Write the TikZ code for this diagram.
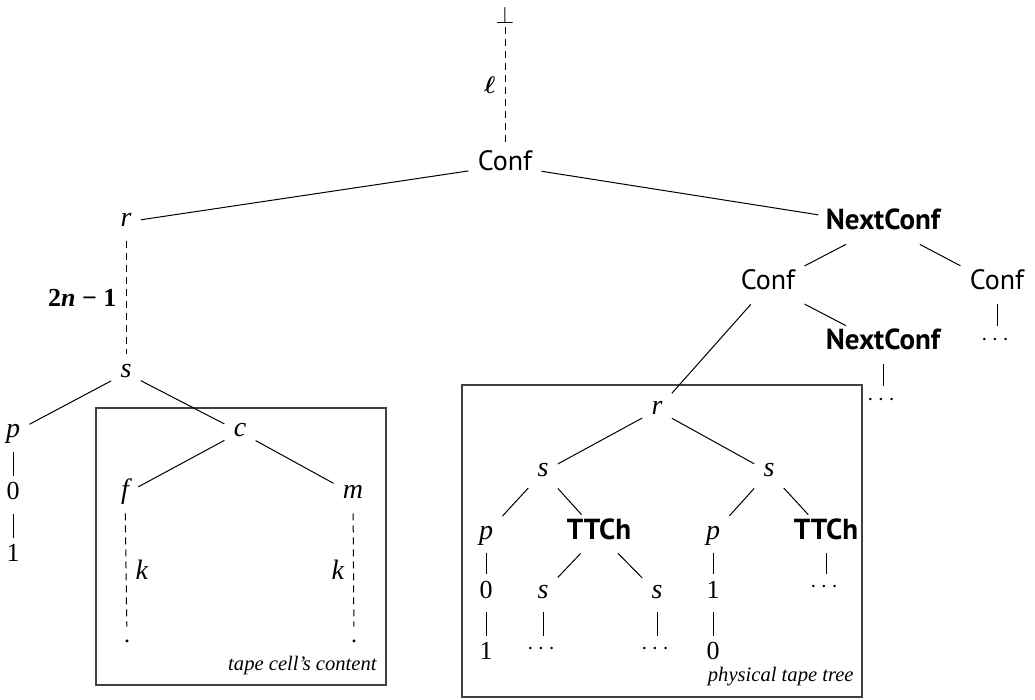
\documentclass[tikz,border=0pt]{standalone}
\usepackage{fontspec}
\usepackage{amsmath}
\setmainfont{Liberation Serif}
\newfontfamily\sansf{PT Sans}
\begin{document}
\begin{tikzpicture}[x=0.5pt,y=-0.5pt,
  every node/.style={font=\fontsize{12}{14}\selectfont},
  tn/.style={inner xsep=4.5pt, inner ysep=4pt, text height=8pt, text depth=3pt},
  numn/.style={tn, font=\fontsize{13}{15}\selectfont},
  itn/.style={tn, font=\fontsize{14}{16}\selectfont\itshape},
  sfn/.style={tn, font=\fontsize{14}{16}\selectfont\sansf},
  sfbn/.style={tn, inner xsep=3.5pt, font=\fontsize{14.5}{16}\selectfont\sansf\bfseries},
  dotn/.style={inner xsep=4pt, inner ysep=6.5pt, text height=1pt, text depth=0pt},
  botn/.style={inner sep=0pt, anchor=base, font=\fontsize{13}{15}\selectfont},
  labn/.style={inner sep=4.5pt},
  conn/.style={line width=0.5pt},
  dline/.style={line width=0.5pt, dash pattern=on 3.5pt off 2.5pt},
  boxframe/.style={draw=black!75, line width=0.6pt},
  captxt/.style={font=\fontsize{10.3}{12}\selectfont\itshape, inner sep=0pt, anchor=base east},
  ]
\useasboundingbox (0,0) rectangle (1035,700);
% frames
\draw[boxframe] (96,408) rectangle (386,685);
\draw[boxframe] (462,385) rectangle (862,697);
\node[captxt] (capL) at (377,670) {tape cell’s content};
\node[captxt] (capR) at (854,682) {physical tape tree};
% top
\node[botn] (bot) at (505,24) {$\bot$};
\node[sfn] (conf) at (505,165.5) {Conf};
\node[itn] (r1) at (126,222) {r};
\node[sfbn] (nc1) at (883,225) {NextConf};
\node[sfn] (conf2) at (768,285) {Conf};
\node[sfn] (conf3) at (997,285) {Conf};
\node[sfbn] (nc2) at (883,345) {NextConf};
\node[tn] (d1) at (997,345.5) {\raisebox{2.5pt}{$\cdots$}};
\node[tn] (d2) at (883,405.5) {\raisebox{2.5pt}{$\cdots$}};
% left subtree
\node[itn] (s1) at (126,373) {s};
\node[itn] (p1) at (13,433) {p};
\node[numn] (z1) at (13,495) {0};
\node[numn] (o1) at (13,557) {1};
\node[itn] (c1) at (240,432) {c};
\node[itn] (f1) at (125,494) {f};
\node[itn] (m1) at (353,494) {m};
\node[dotn] (e1) at (127,641) {.};
\node[dotn] (e2) at (354,641) {.};
% right subtree
\node[itn] (r2) at (657,410) {r};
\node[itn] (s2) at (543,472) {s};
\node[itn] (s3) at (769,472) {s};
\node[itn] (p2) at (486,534) {p};
\node[sfbn] (tt1) at (599,534) {TTCh};
\node[itn] (p3) at (713,534) {p};
\node[sfbn] (tt2) at (826,534) {TTCh};
\node[numn] (z2) at (486,593) {0};
\node[itn] (s4) at (543,593) {s};
\node[itn] (s5) at (657,593) {s};
\node[numn] (o2) at (713,593) {1};
\node[tn] (d3) at (826,593) {\raisebox{2.5pt}{$\cdots$}};
\node[numn] (o3) at (486,655) {1};
\node[tn] (d4) at (543,655) {\raisebox{2.5pt}{$\cdots$}};
\node[tn] (d5) at (657,655) {\raisebox{2.5pt}{$\cdots$}};
\node[numn] (z3) at (713,655) {0};
% edges
\draw[dline, shorten <=1.5pt] (bot) -- node[labn,left] {$\boldsymbol{\ell}$} (conf);
\draw[conn] (conf) -- (r1);
\draw[conn] (conf) -- (nc1);
\draw[conn] (nc1) -- (conf2);
\draw[conn] (nc1) -- (conf3);
\draw[conn] (conf2) -- (nc2);
\draw[conn] (conf2) -- (r2);
\draw[conn] (conf3) -- (d1);
\draw[conn] (nc2) -- (d2);
\draw[dline] (r1) -- node[labn,left,font=\fontsize{13}{15}\selectfont] {\bfseries 2\textit{n}\hspace{0.25em}−\hspace{0.25em}1} (s1);
\draw[conn] (s1) -- (p1);
\draw[conn] (p1) -- (z1);
\draw[conn] (z1) -- (o1);
\draw[conn] (s1) -- (c1);
\draw[conn] (c1) -- (f1);
\draw[conn] (c1) -- (m1);
\draw[dline] (f1) -- node[labn,right,font=\fontsize{14}{16}\selectfont\itshape] {k} (e1);
\draw[dline] (m1) -- node[labn,left,font=\fontsize{14}{16}\selectfont\itshape] {k} (e2);
\draw[conn] (r2) -- (s2);
\draw[conn] (r2) -- (s3);
\draw[conn] (s2) -- (p2);
\draw[conn] (s2) -- (tt1);
\draw[conn] (s3) -- (p3);
\draw[conn] (s3) -- (tt2);
\draw[conn] (p2) -- (z2);
\draw[conn] (z2) -- (o3);
\draw[conn] (tt1) -- (s4);
\draw[conn] (tt1) -- (s5);
\draw[conn] (s4) -- (d4);
\draw[conn] (s5) -- (d5);
\draw[conn] (p3) -- (o2);
\draw[conn] (o2) -- (z3);
\draw[conn] (tt2) -- (d3);
\end{tikzpicture}
\end{document}
